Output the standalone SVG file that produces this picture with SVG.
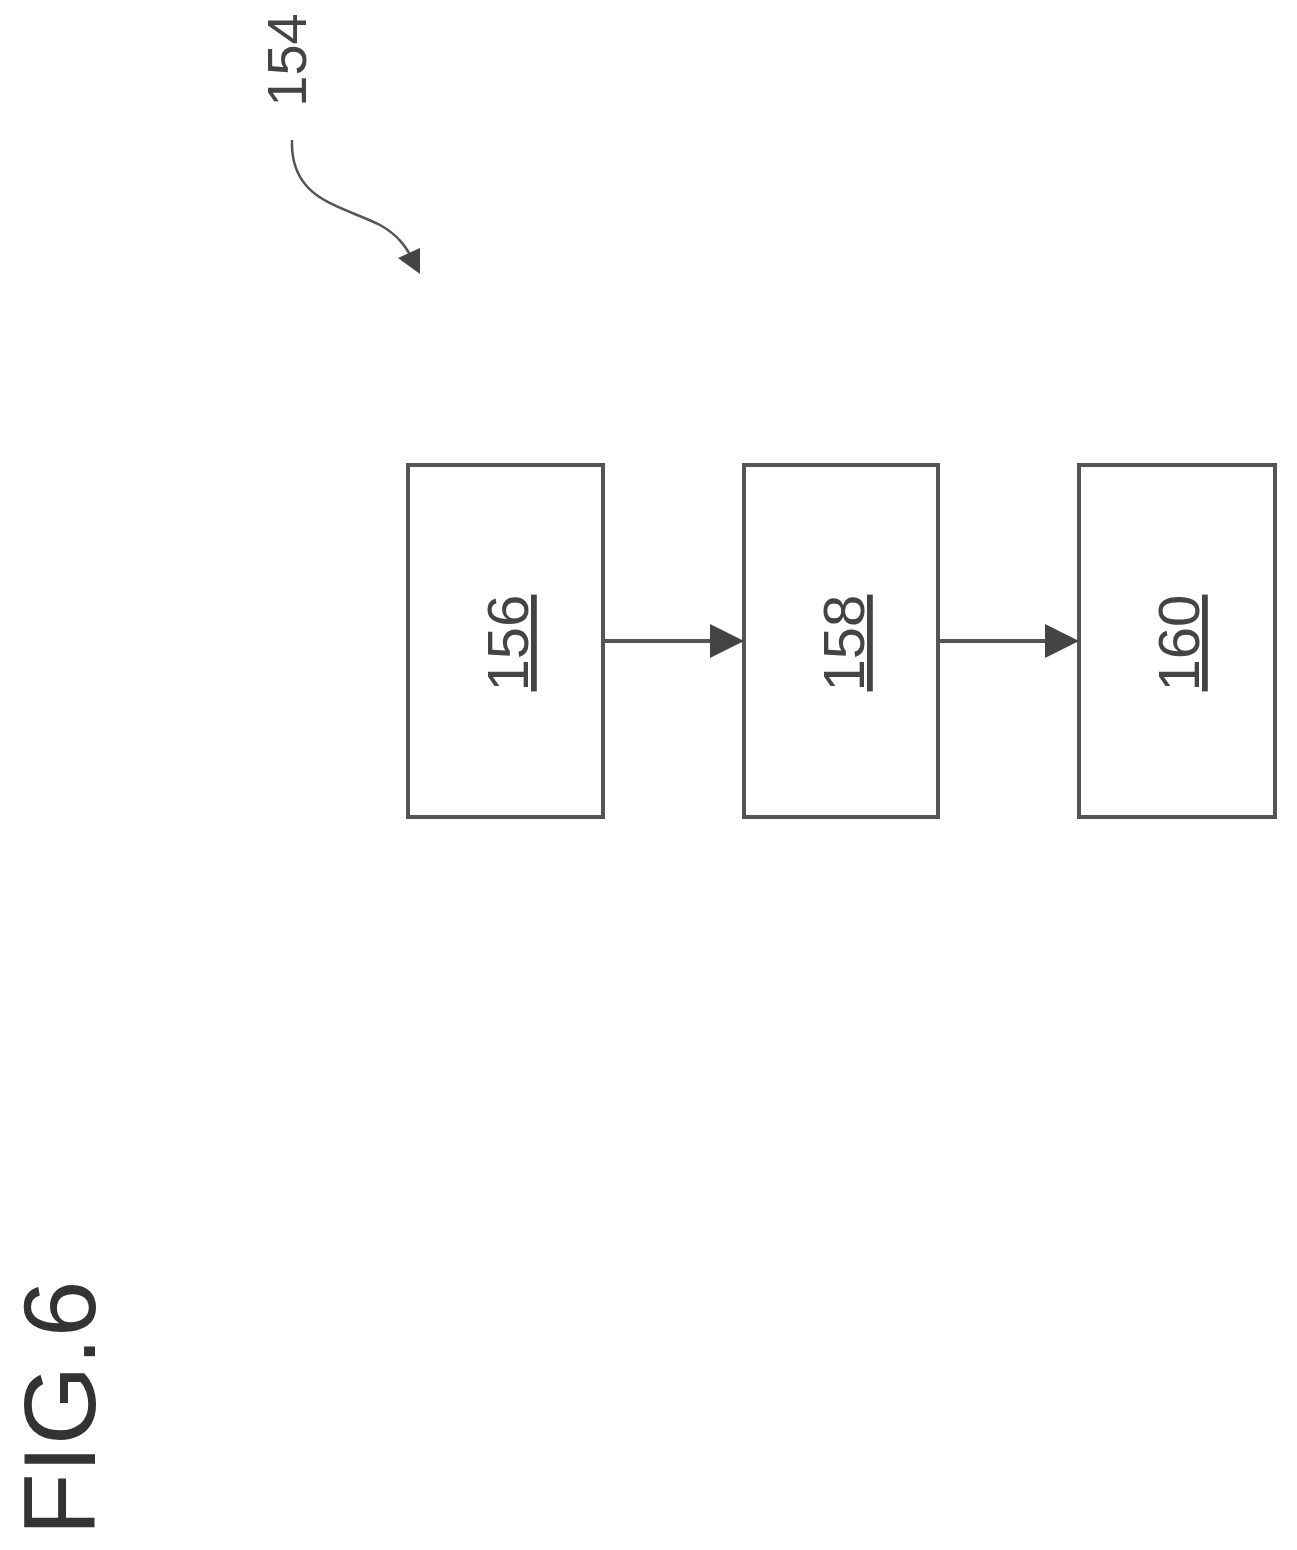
<svg xmlns="http://www.w3.org/2000/svg" width="1297" height="1550" viewBox="0 0 1297 1550">
<style>
.box{fill:#fff;stroke:#555;stroke-width:4}
.lbl{font-family:"Liberation Sans",Arial,sans-serif;font-size:58px;fill:#444;text-anchor:middle}
.ln{stroke:#555;stroke-width:4;fill:none}
.head{fill:#444}
</style>
<rect width="1297" height="1550" fill="#fff"/>
<g id="n156"><rect class="box" x="408" y="465" width="195" height="352"/>
<text class="lbl" transform="translate(528,643) rotate(-90)" text-decoration="underline">156</text></g>
<g id="n158"><rect class="box" x="744" y="465" width="194" height="352"/>
<text class="lbl" transform="translate(864,643) rotate(-90)" text-decoration="underline">158</text></g>
<g id="n160"><rect class="box" x="1079" y="465" width="196" height="352"/>
<text class="lbl" transform="translate(1199,643) rotate(-90)" text-decoration="underline">160</text></g>
<g id="ref154"><text class="lbl" style="font-size:56px" transform="translate(306,60) rotate(-90)">154</text></g>
<g id="fig"><text class="lbl" style="font-size:102px;fill:#333" transform="translate(95,1408) rotate(-90)">FIG.6</text></g>
<g id="connectors">
<line class="ln" x1="603" y1="641" x2="712" y2="641"/>
<line class="ln" x1="938" y1="641" x2="1047" y2="641"/>
<path class="head" d="M710,624 L744,641 L710,658 Z"/>
<path class="head" d="M1045,624 L1079,641 L1045,658 Z"/>
<path class="ln" style="stroke-width:2.5" d="M292,140 C290,200 340,205 380,225 C400,236 408,250 414,262"/>
<path class="head" d="M398,258 L420,274 L420,248 Z"/>
</g>
</svg>
